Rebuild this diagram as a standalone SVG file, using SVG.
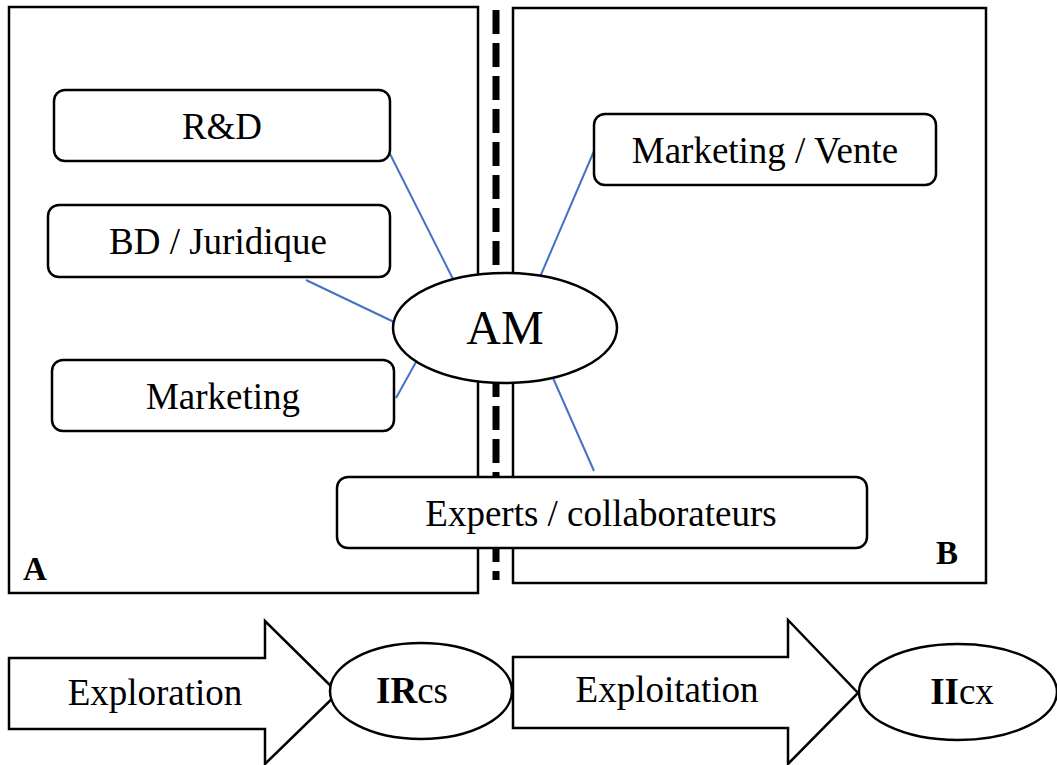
<svg xmlns="http://www.w3.org/2000/svg" width="1057" height="765" viewBox="0 0 1057 765">
<style>
.frame{fill:none;stroke:#000;stroke-width:2.5}
.box{fill:#fff;stroke:#000;stroke-width:2.5}
.lbl{font-family:"Liberation Serif","Times New Roman",serif;font-size:37px;fill:#000;text-anchor:middle}
.big{font-size:48px}
.bold{font-weight:bold}
.tag{font-size:33px;font-weight:bold}
.conn{stroke:#4472C4;stroke-width:2;fill:none}
.dash{stroke:#000;stroke-width:7;stroke-dasharray:24 9;fill:none}
</style>
<rect width="1057" height="765" fill="#fff"/>
<g id="zoneA">
<rect class="frame" x="9" y="7" width="469" height="586"/>
<text class="lbl tag" x="35" y="580">A</text>
</g>
<g id="zoneB">
<rect class="frame" x="513" y="8" width="473" height="575"/>
<text class="lbl tag" x="947" y="564">B</text>
</g>
<g id="divider">
<line class="dash" x1="496" y1="10" x2="496" y2="580"/>
</g>
<g id="connectors">
<line class="conn" x1="389" y1="152" x2="453" y2="279"/>
<line class="conn" x1="306" y1="280" x2="394" y2="322"/>
<line class="conn" x1="396" y1="398" x2="416" y2="362"/>
<line class="conn" x1="594" y1="151" x2="540" y2="277"/>
<line class="conn" x1="594" y1="471" x2="553" y2="378"/>
</g>
<g id="rd">
<rect class="box" x="54" y="90" width="336" height="71" rx="11"/>
<text class="lbl" x="222" y="139">R&amp;D</text>
</g>
<g id="bd">
<rect class="box" x="48" y="205" width="342" height="72" rx="11"/>
<text class="lbl" x="218" y="254">BD / Juridique</text>
</g>
<g id="marketing">
<rect class="box" x="52" y="360" width="342" height="71" rx="11"/>
<text class="lbl" x="223" y="409">Marketing</text>
</g>
<g id="marketingVente">
<rect class="box" x="594" y="114" width="342" height="71" rx="11"/>
<text class="lbl" x="765" y="163">Marketing / Vente</text>
</g>
<g id="am">
<ellipse class="box" cx="505" cy="328" rx="112" ry="55"/>
<text class="lbl big" x="505" y="344">AM</text>
</g>
<g id="experts">
<rect class="box" x="337" y="477" width="530" height="71" rx="11"/>
<text class="lbl" x="601" y="526">Experts / collaborateurs</text>
</g>
<g id="exploration">
<polygon class="box" points="9,658 265,658 265,621 338,693 265,764 265,729 9,729"/>
<text class="lbl" x="155" y="705">Exploration</text>
</g>
<g id="ircs">
<ellipse class="box" cx="421" cy="691" rx="91" ry="48"/>
<text class="lbl" x="412" y="703"><tspan class="bold">IR</tspan>cs</text>
</g>
<g id="exploitation">
<polygon class="box" points="513,657 788,657 788,620 858,693 788,764 788,728 513,728"/>
<text class="lbl" x="667" y="702">Exploitation</text>
</g>
<g id="iicx">
<ellipse class="box" cx="958" cy="692" rx="99" ry="48"/>
<text class="lbl" x="962" y="704"><tspan class="bold">II</tspan>cx</text>
</g>
</svg>
